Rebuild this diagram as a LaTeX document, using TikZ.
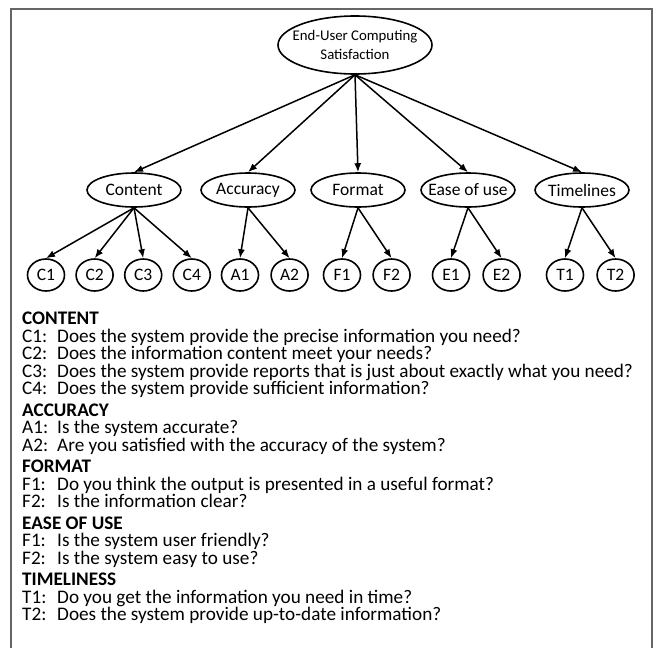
\documentclass[tikz,border=0pt]{standalone}
\usepackage{fontspec}
\setmainfont{Carlito}
\usetikzlibrary{positioning, arrows.meta, shapes.geometric}

\newcommand{\qid}[1]{\makebox[35pt][l]{#1}}

\begin{document}
\begin{tikzpicture}[
    x=1pt, y=-1pt,
    font=\fontsize{17.5}{20}\selectfont,
    root/.style={
        draw, ellipse, line width=1.6pt,
        minimum width=154pt, minimum height=58pt,
        inner xsep=-20pt, inner ysep=0pt,
        align=center, font=\fontsize{14.8}{19}\selectfont
    },
    factor/.style={
        draw, ellipse, line width=1.6pt,
        minimum width=94pt, minimum height=34pt,
        inner xsep=-10pt, inner ysep=0pt
    },
    item/.style={
        draw, ellipse, line width=1.6pt,
        minimum width=37pt, minimum height=32pt,
        inner sep=0pt, font=\fontsize{17.5}{20}\selectfont
    },
    legend/.style={
        align=left, inner sep=0pt,
        font=\fontsize{19.2}{17.5}\selectfont
    },
    link/.style={-{Latex[length=9pt,width=7pt]}, line width=1.5pt}
]
\useasboundingbox (0,0) rectangle (660,648);

% ===== FRAME =====
\draw[gray!80!black, line width=1.6pt] (11,648) |- (652,9) -- (652,648);

% ===== ROOT =====
\node[root] (ecus) at (355,45) {End-User Computing\\Satisfaction};

% ===== FACTORS =====
\node[factor] (content) at (134,190) {Content};
\node[factor] (accuracy) at (248,190) {Accuracy};
\node[factor] (format) at (358,190) {Format};
\node[factor] (ease) at (468,190) {Ease of use};
\node[factor] (timeliness) at (582,190) {Timelines};

% ===== ITEMS =====
\node[item] (c1) at (46,275) {C1};
\node[item, right=10pt of c1] (c2) {C2};
\node[item, right=10pt of c2] (c3) {C3};
\node[item, right=10pt of c3] (c4) {C4};

\node[item] (a1) at (240,275) {A1};
\node[item, right=11pt of a1] (a2) {A2};

\node[item] (f1) at (342,275) {F1};
\node[item, right=11pt of f1] (f2) {F2};

\node[item] (e1) at (451,275) {E1};
\node[item, right=12pt of e1] (e2) {E2};

\node[item] (t1) at (565,275) {T1};
\node[item, right=12pt of t1] (t2) {T2};

% ===== LINKS =====
\foreach \f in {content, accuracy, format, ease, timeliness}
    \draw[link] (ecus.south) -- (\f.north);

\foreach \i in {c1, c2, c3, c4}
    \draw[link] (content.south) -- (\i.north);
\foreach \i in {a1, a2}
    \draw[link] (accuracy.south) -- (\i.north);
\foreach \i in {f1, f2}
    \draw[link] (format.south) -- (\i.north);
\foreach \i in {e1, e2}
    \draw[link] (ease.south) -- (\i.north);
\foreach \i in {t1, t2}
    \draw[link] (timeliness.south) -- (\i.north);

% ===== QUESTIONS =====
\node[legend, anchor=north west] (questions) at (22,312)
{\textbf{CONTENT}\\
\qid{C1:}Does the system provide the precise information you need?\\
\qid{C2:}Does the information content meet your needs?\\
\qid{C3:}Does the system provide reports that is just about exactly what you need?\\
\qid{C4:}Does the system provide sufficient information?\\[4pt]
\textbf{ACCURACY}\\
\qid{A1:}Is the system accurate?\\
\qid{A2:}Are you satisfied with the accuracy of the system?\\[4pt]
\textbf{FORMAT}\\
\qid{F1:}Do you think the output is presented in a useful format?\\
\qid{F2:}Is the information clear?\\[4pt]
\textbf{EASE OF USE}\\
\qid{F1:}Is the system user friendly?\\
\qid{F2:}Is the system easy to use?\\[4pt]
\textbf{TIMELINESS}\\
\qid{T1:}Do you get the information you need in time?\\
\qid{T2:}Does the system provide up-to-date information?};

\end{tikzpicture}
\end{document}
